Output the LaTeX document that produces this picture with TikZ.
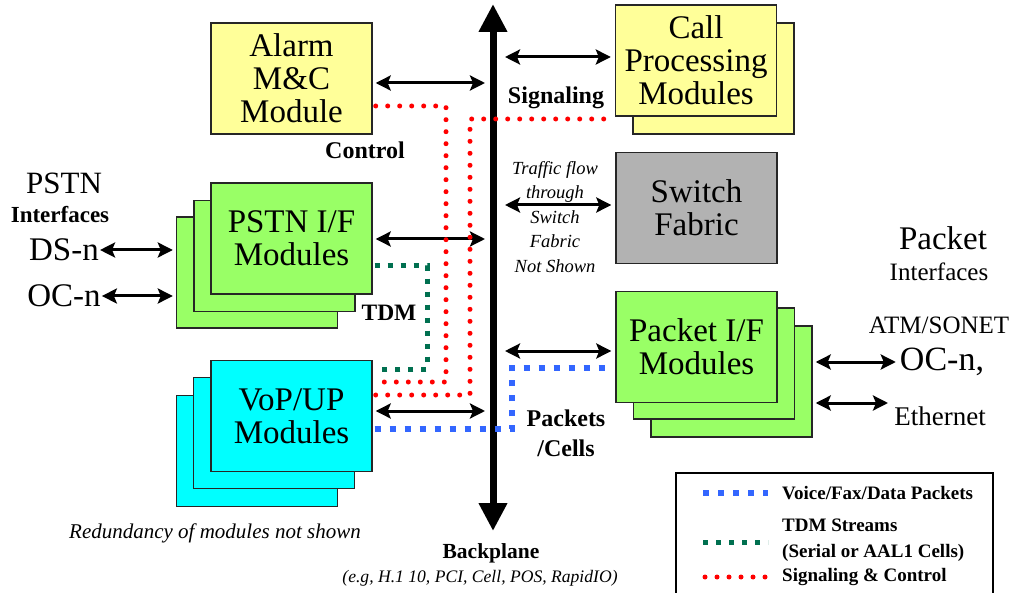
\documentclass[tikz,border=0pt]{standalone}
\usepackage{fontspec}
\setmainfont{Liberation Serif}
\usepackage{tikz}
\usetikzlibrary{arrows.meta}

\definecolor{modyellow}{RGB}{255,255,153}
\definecolor{modgreen}{RGB}{153,255,102}
\definecolor{modcyan}{RGB}{0,255,255}
\definecolor{modgray}{RGB}{178,178,178}
\definecolor{tdmgreen}{RGB}{0,112,80}
\definecolor{pktblue}{RGB}{51,102,255}

\newcommand{\bigtxt}{\fontsize{33}{33}\selectfont}
\newcommand{\midtxt}{\fontsize{25}{28}\selectfont}

\begin{document}
\begin{tikzpicture}[x=1pt,y=-1pt,
    >={Stealth[length=15pt,width=15pt,inset=3pt]},
    module/.style={draw=black!85, line width=1.4pt, minimum width=161pt,
      minimum height=111pt, inner sep=0pt, align=center, font=\bigtxt},
    link/.style={<->, line width=3pt},
    backplane/.style={line width=7pt,
      {Triangle[length=28pt,width=27pt]}-{Triangle[length=28pt,width=27pt]}},
    sigline/.style={red, line width=5pt, line cap=round, dash pattern=on 0pt off 12pt},
    tdmline/.style={tdmgreen, line width=5pt, dash pattern=on 5pt off 8pt},
    pktline/.style={pktblue, line width=6pt, dash pattern=on 6pt off 9pt},
    lbl/.style={inner sep=0pt, font=\fontsize{24}{30}\selectfont\bfseries, align=center},
    note/.style={inner sep=0pt, font=\fontsize{18.5}{24.5}\selectfont\itshape, align=center},
    legendtxt/.style={inner sep=0pt, anchor=west, align=left,
      font=\fontsize{19}{26}\selectfont\bfseries}]
\useasboundingbox (0,0) rectangle (1011,593);
\clip (0,0) rectangle (1011,593);

% backplane
\coordinate (bptop) at (493,4);
\coordinate (bpbot) at (493,531);
\draw[backplane] (bpbot) -- (bptop);

% modules
\node[module, fill=modyellow] (alarm) at (291.5,78.5) {Alarm\\M\&C\\Module};
\node[module, fill=modyellow] (call2) at (713.5,78.5) {};
\node[module, fill=modyellow] (call) at (696,60.5) {Call\\Processing\\Modules};
\node[module, fill=modgray] (switch) at (696.5,208) {Switch\\Fabric};
\node[module, fill=modgreen] (pstn3) at (257,272.5) {};
\node[module, fill=modgreen] (pstn2) at (274.5,256) {};
\node[module, fill=modgreen] (pstn) at (291.5,238.5) {PSTN I/F\\Modules};
\node[module, fill=modcyan] (vop3) at (257,451) {};
\node[module, fill=modcyan] (vop2) at (274,433) {};
\node[module, fill=modcyan] (vop) at (291.5,416) {VoP/UP\\Modules};
\node[module, fill=modgreen] (pkt3) at (731.5,381.5) {};
\node[module, fill=modgreen] (pkt2) at (714,363.5) {};
\node[module, fill=modgreen] (pkt) at (696.5,347) {Packet I/F\\Modules};

% outside interfaces
\node[inner sep=0pt, font=\fontsize{31}{33}\selectfont] (pstnlbl) at (64,183) {PSTN};
\node[lbl, font=\fontsize{23}{26}\selectfont\bfseries] (pstnif) at (60,215) {Interfaces};
\node[inner sep=0pt, font=\bigtxt] (dsn) at (64,250) {DS-n};
\node[inner sep=0pt, font=\bigtxt] (ocn) at (64,296) {OC-n};
\node[inner sep=0pt, font=\bigtxt] (pktlbl) at (943,238) {Packet};
\node[inner sep=0pt, font=\midtxt] (pktif) at (939,272) {Interfaces};
\node[inner sep=0pt, font=\midtxt] (atm) at (939,325) {ATM/SONET};
\node[inner sep=0pt, font=\fontsize{34}{36}\selectfont] (ocnr) at (942,362) {OC-n,};
\node[inner sep=0pt, font=\fontsize{27}{30}\selectfont] (eth) at (940,416) {Ethernet};

% links to the backplane
\coordinate (bp-alarm) at (485,83);
\coordinate (bp-call) at (505,57);
\coordinate (bp-switch) at (505,205);
\coordinate (bp-pstn) at (485,239);
\coordinate (bp-pkt) at (505,351);
\coordinate (bp-vop) at (485,411);
\coordinate (eth-in) at (888,403);

\draw[link, shorten <=3pt] (alarm.east |- bp-alarm) -- (bp-alarm);
\draw[link, shorten >=4pt] (bp-call) -- (call.west |- bp-call);
\draw[link, shorten >=4pt] (bp-switch) -- (switch.west |- bp-switch);
\draw[link, shorten <=3pt] (pstn.east |- bp-pstn) -- (bp-pstn);
\draw[link, shorten >=4pt] (bp-pkt) -- (pkt.west |- bp-pkt);
\draw[link, shorten <=3pt] (vop.east |- bp-vop) -- (bp-vop);
\draw[link, shorten <=1pt, shorten >=3pt] (dsn.east) -- (pstn3.west |- dsn);
\draw[link, shorten <=1pt, shorten >=3pt] (ocn.east) -- (pstn3.west |- ocn);
\draw[link, shorten <=3pt, shorten >=4pt] (pkt3.east |- ocnr) -- (ocnr.west);
\draw[link, shorten <=3pt] (pkt3.east |- eth-in) -- (eth-in);

% signaling, TDM and packet paths
\coordinate (s1) at (446,106);
\coordinate (s2) at (446,382);
\coordinate (s3) at (470,395);
\coordinate (s4) at (470,119);
\coordinate (t1) at (427,266);
\coordinate (t2) at (427,369);
\coordinate (p1) at (512,429);
\coordinate (p2) at (512,368);
\draw[sigline, shorten <=3pt, shorten >=3pt] (alarm.east |- s1) -- (s1) -- (s2) -- (vop.east |- s2);
\draw[sigline, shorten <=3pt, shorten >=3pt] (vop.east |- s3) -- (s3) -- (s4) -- (call.west |- s4);
\draw[tdmline, shorten <=2pt, shorten >=2pt] (pstn.east |- t1) -- (t1) -- (t2) -- (vop.east |- t2);
\draw[pktline, shorten <=2pt, shorten >=4pt] (vop.east |- p1) -- (p1) -- (p2) -- (pkt.west |- p2);

% labels
\node[lbl] (control) at (365,150) {Control};
\node[lbl] (signaling) at (556,98) {Signaling};
\node[lbl, font=\fontsize{23.5}{26}\selectfont\bfseries] (tdm) at (389,313) {TDM};
\node[lbl] (pktcells) at (566,433) {Packets\\/Cells};
\node[note] (traffic) at (555,217) {Traffic flow\\through\\Switch\\Fabric\\Not Shown};
\node[note, font=\fontsize{21}{24}\selectfont\itshape] (redund) at (215,533) {Redundancy of modules not shown};
\node[lbl, font=\fontsize{21.5}{24}\selectfont\bfseries] (bplbl) at (491,553) {Backplane};
\node[note, font=\fontsize{17.6}{20}\selectfont\itshape] (bpeg) at (480,578) {(e.g, H.1 10, PCI, Cell, POS, RapidIO)};

% legend
\draw[line width=1.4pt] (676,473) rectangle (993,610);
\coordinate (lg1a) at (703,493);
\coordinate (lg1b) at (768,493);
\coordinate (lg2a) at (703,542);
\coordinate (lg2b) at (768,542);
\coordinate (lg3a) at (705,577);
\coordinate (lg3b) at (768,577);
\draw[pktline] (lg1a) -- (lg1b);
\draw[tdmline] (lg2a) -- (lg2b);
\draw[sigline] (lg3a) -- (lg3b);
\node[legendtxt] (lgpkt) at (782,493) {Voice/Fax/Data Packets};
\node[legendtxt] (lgtdm) at (782,540) {TDM Streams\\(Serial or AAL1 Cells)};
\node[legendtxt] (lgsig) at (782,577) {Signaling \& Control};
\end{tikzpicture}
\end{document}
